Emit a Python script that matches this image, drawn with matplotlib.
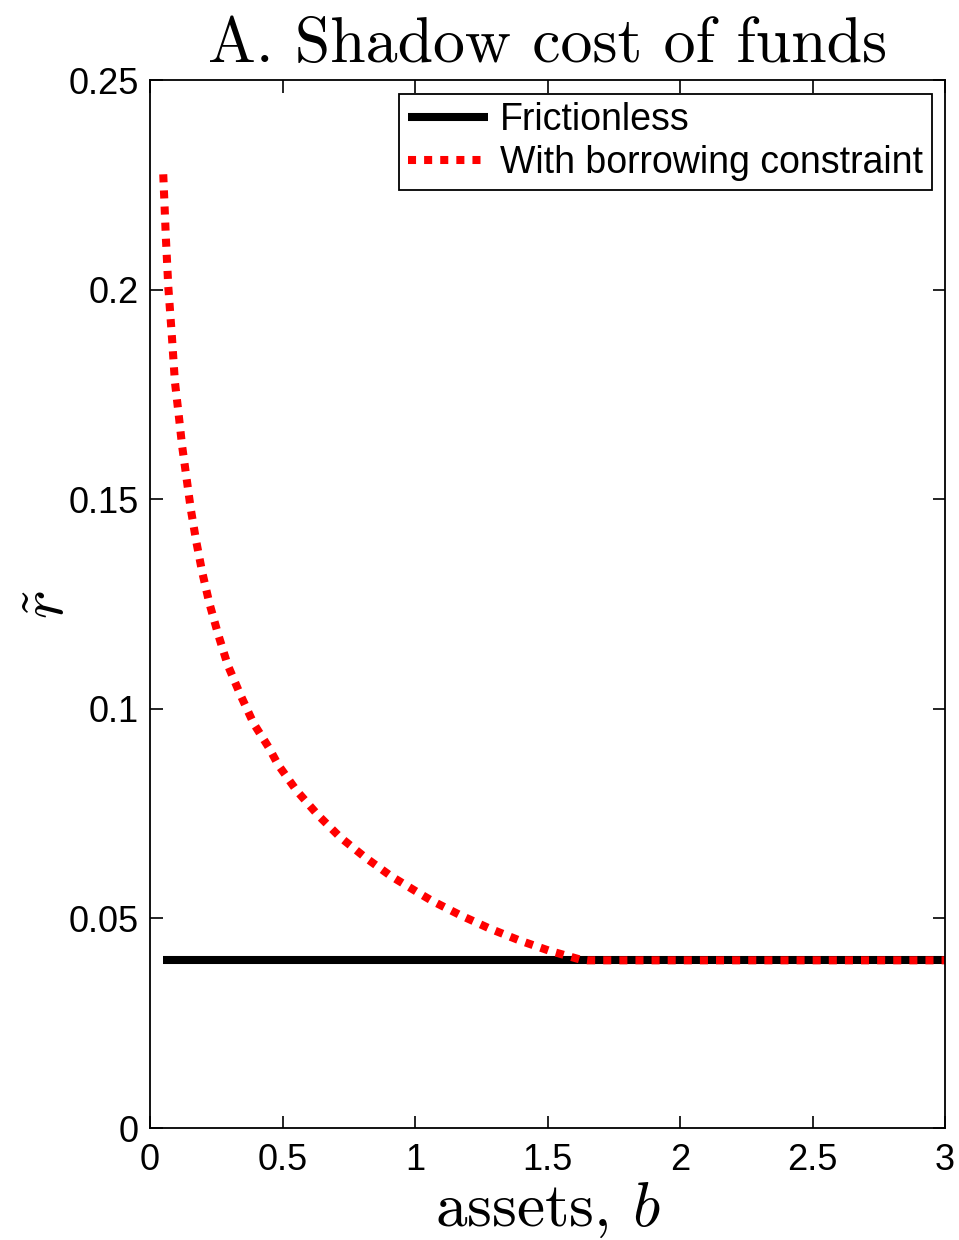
import matplotlib
matplotlib.use("Agg")
import matplotlib.pyplot as plt
from matplotlib.ticker import FuncFormatter

plt.rcParams["font.family"] = ["Liberation Sans", "DejaVu Sans"]
plt.rcParams["mathtext.fontset"] = "cm"

# Data
b_frictionless = [0.05, 3.0]
r_frictionless = [0.04, 0.04]

b_constrained = [0.050, 0.060, 0.069, 0.082, 0.094, 0.108, 0.121, 0.154, 0.174,
                 0.197, 0.224, 0.257, 0.293, 0.340, 0.391, 0.449, 0.483, 0.553,
                 0.633, 0.717, 0.811, 0.909, 1.013, 1.064, 1.170, 1.281, 1.392,
                 1.506, 1.623, 1.650, 3.0]
r_constrained = [0.2275, 0.2122, 0.2007, 0.1894, 0.1780, 0.1703, 0.1628, 0.1476, 0.1401,
                 0.1326, 0.1252, 0.1178, 0.1105, 0.1035, 0.0965, 0.0907, 0.0867, 0.0805,
                 0.0747, 0.0694, 0.0646, 0.0601, 0.0561, 0.0542, 0.0508, 0.0476, 0.0448,
                 0.0423, 0.0402, 0.0400, 0.0400]

xticks = [0, 0.5, 1, 1.5, 2, 2.5, 3]
yticks = [0, 0.05, 0.1, 0.15, 0.2, 0.25]

fig = plt.figure(figsize=(9.59, 12.4), dpi=100)
ax = fig.add_axes([150 / 959, 112 / 1240, 795 / 959, 1048 / 1240])

ax.plot(b_frictionless, r_frictionless, color="black", lw=5.8,
        solid_capstyle="butt", label="Frictionless")
ax.plot(b_constrained, r_constrained, color="red", lw=5.8,
        linestyle=(0, (1, 1)), dash_capstyle="butt", label="With borrowing constraint")

ax.set_xlim(0, 3)
ax.set_ylim(0, 0.25)
ax.set_xticks(xticks)
ax.set_yticks(yticks)
fmt = FuncFormatter(lambda v, _: f"{v:g}")
ax.xaxis.set_major_formatter(fmt)
ax.yaxis.set_major_formatter(fmt)
ax.tick_params(direction="in", length=9, width=1.2, top=True, right=True,
               labelsize=26)
ax.tick_params(axis="x", pad=11)
ax.tick_params(axis="y", pad=8)
for s in ax.spines.values():
    s.set_linewidth(1.3)

ax.set_title("A. Shadow cost of funds", fontsize=46, pad=13, family="cmr10")
ax.set_xlabel("assets, $b$", fontsize=45.5, labelpad=2, family="cmr10")
ax.set_ylabel(r"$\tilde{r}$", fontsize=44, labelpad=-6)

leg = ax.legend(loc="upper right", fontsize=27, frameon=True, fancybox=False,
                edgecolor="black", framealpha=1, handlelength=2.15,
                handletextpad=0.3, labelspacing=0.18, borderpad=0.24,
                borderaxespad=0.36)
leg.get_frame().set_linewidth(1.3)

fig.savefig("out.png", dpi=100)
